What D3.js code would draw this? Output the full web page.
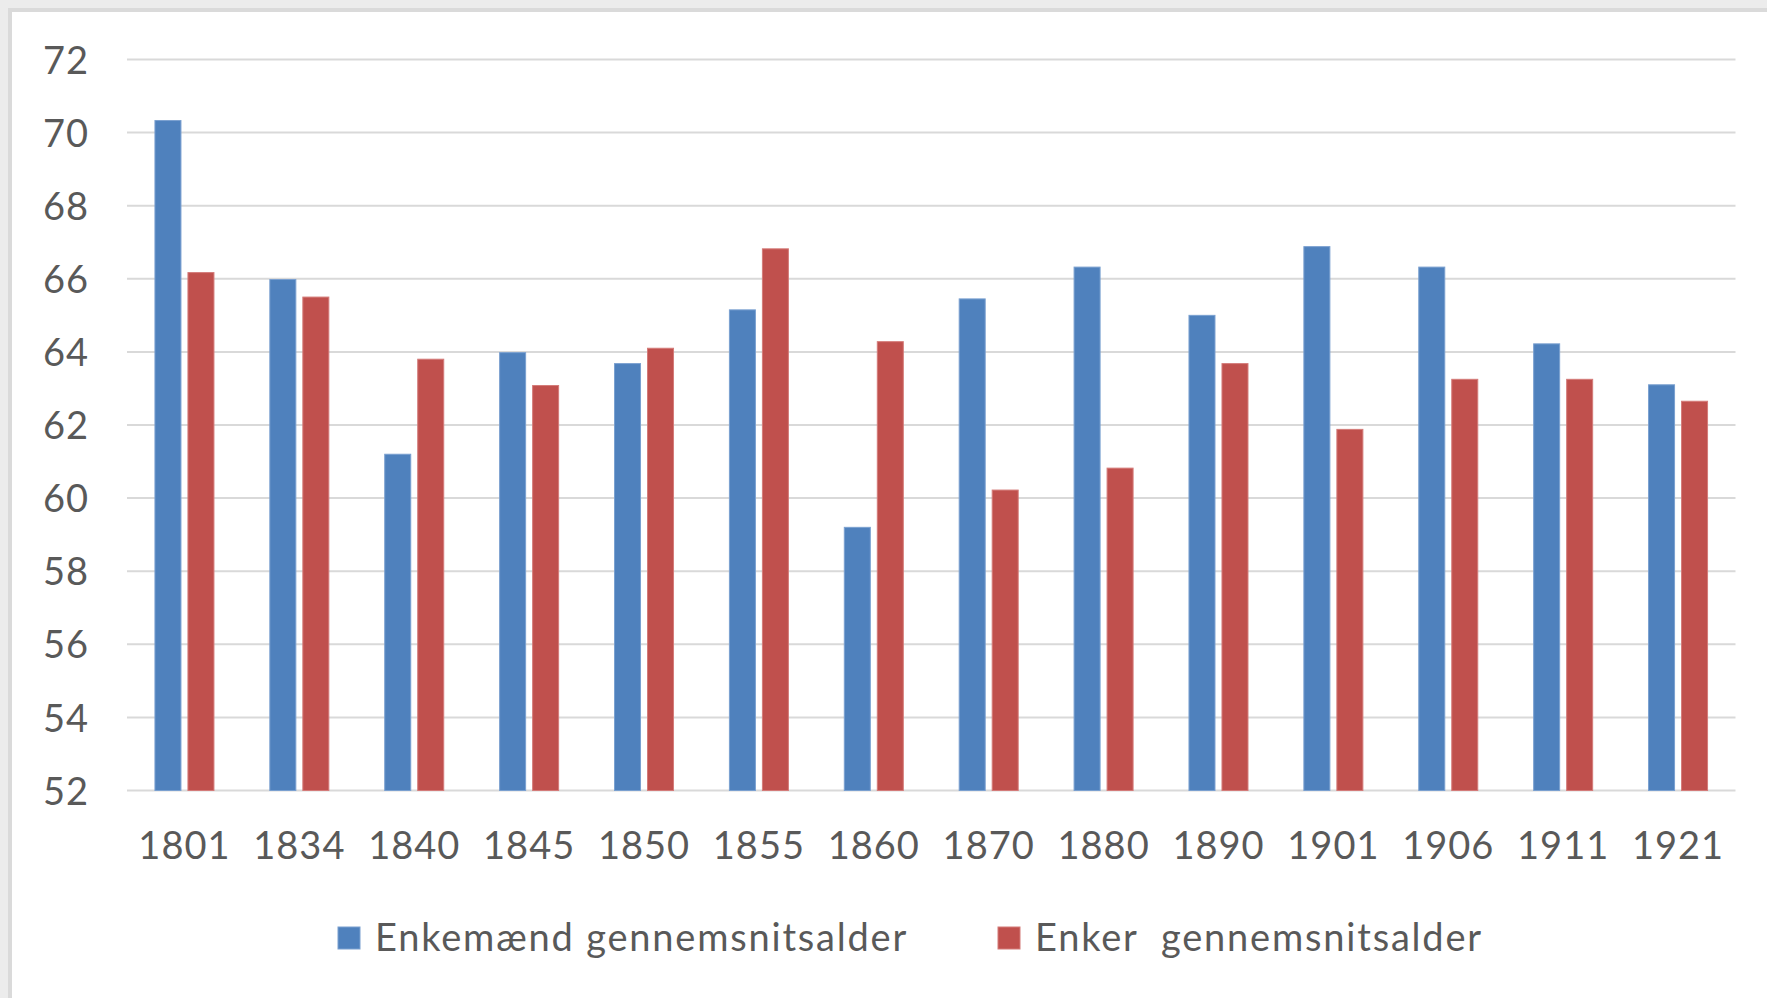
<!DOCTYPE html>
<html>
<head>
<meta charset="utf-8">
<script src="https://cdn.jsdelivr.net/npm/d3@7"></script>
<style>
  html, body { margin: 0; padding: 0; background: #ffffff; }
  svg text { font-family: Lato, 'Open Sans', sans-serif; fill: #595959; }
</style>
</head>
<body>
<div id="chart"></div>
<script>
// chart data
const years = ['1801', '1834', '1840', '1845', '1850', '1855', '1860', '1870', '1880', '1890', '1901', '1906', '1911', '1921'];
const widowers = [70.33, 65.98, 61.2, 63.98, 63.68, 65.15, 59.2, 65.45, 66.32, 65.0, 66.88, 66.32, 64.22, 63.1];
const widows = [66.17, 65.5, 63.8, 63.08, 64.1, 66.82, 64.28, 60.22, 60.82, 63.68, 61.88, 63.25, 63.25, 62.65];
const yTicks = [52, 54, 56, 58, 60, 62, 64, 66, 68, 70, 72];
const seriesNames = ['Enkemænd gennemsnitsalder', 'Enker  gennemsnitsalder'];
const seriesColors = ['#4f81bd', '#c0504d'];
const seriesStroke = ['#7aa0d0', '#d47b79'];

const width = 1767;
const height = 998;
const plot = { left: 127, right: 1735.5, top: 59.5, bottom: 790.5 };
const FONT_SIZE = '38px';

const svg = d3.select('#chart')
  .append('svg')
  .attr('width', width)
  .attr('height', height);

// grey window frame at left and top
svg.append('rect').attr('x', 0).attr('y', 0).attr('width', width).attr('height', height).attr('fill', '#ececec');
svg.append('rect').attr('x', 8).attr('y', 8).attr('width', width - 8).attr('height', height - 8).attr('fill', '#dadada');
svg.append('rect').attr('x', 12).attr('y', 12).attr('width', width - 12).attr('height', height - 12).attr('fill', '#ffffff');

const x = d3.scaleBand()
  .domain(years)
  .range([plot.left, plot.right]);

const y = d3.scaleLinear()
  .domain([52, 72])
  .range([plot.bottom, plot.top]);

// bars sit inside each band: two bars with a small gap
const barW = 26;
const barGap = 7;
const groupW = barW * 2 + barGap;
const seriesOffset = (i) => (x.bandwidth() - groupW) / 2 + i * (barW + barGap);

// gridlines
svg.append('g')
  .attr('class', 'grid')
  .selectAll('line')
  .data(yTicks)
  .join('line')
  .attr('x1', plot.left)
  .attr('x2', plot.right)
  .attr('y1', (d) => y(d))
  .attr('y2', (d) => y(d))
  .attr('stroke', '#d9d9d9')
  .attr('stroke-width', 2);

// y axis labels
const yAxis = svg.append('g')
  .attr('transform', 'translate(89,0)')
  .call(d3.axisLeft(y).tickValues(yTicks).tickSize(0).tickPadding(0));
yAxis.select('.domain').remove();
yAxis.selectAll('text')
  .style('font-size', FONT_SIZE)
  .style('letter-spacing', '1px')
  .attr('fill', '#595959')
  .attr('dy', '0.36em');

// x axis labels
const xAxis = svg.append('g')
  .attr('transform', `translate(0,${plot.bottom})`)
  .call(d3.axisBottom(x).tickSize(0).tickPadding(0));
xAxis.select('.domain').remove();
xAxis.selectAll('text')
  .style('font-size', FONT_SIZE)
  .style('letter-spacing', '1px')
  .attr('fill', '#595959')
  .attr('y', 55)
  .attr('dy', '0.36em');

// bars
const series = [widowers, widows];
series.forEach((values, i) => {
  svg.append('g')
    .selectAll('rect')
    .data(values)
    .join('rect')
    .attr('x', (d, j) => x(years[j]) + seriesOffset(i))
    .attr('y', (d) => y(d))
    .attr('width', barW)
    .attr('height', (d) => y(52) - y(d))
    .attr('fill', seriesColors[i])
    .attr('stroke', seriesStroke[i])
    .attr('stroke-width', 1);
});

// legend
const legendX = [338, 998];
const legend = svg.append('g')
  .selectAll('g')
  .data(seriesNames)
  .join('g')
  .attr('transform', (d, i) => `translate(${legendX[i]},927)`);

legend.append('rect')
  .attr('width', 22)
  .attr('height', 22)
  .attr('fill', (d, i) => seriesColors[i])
  .attr('stroke', (d, i) => seriesStroke[i]);

legend.append('text')
  .attr('x', 37)
  .attr('y', 10)
  .attr('dy', '0.36em')
  .style('font-size', FONT_SIZE)
  .style('letter-spacing', '1.8px')
  .style('white-space', 'pre')
  .text((d) => d);
</script>
</body>
</html>
